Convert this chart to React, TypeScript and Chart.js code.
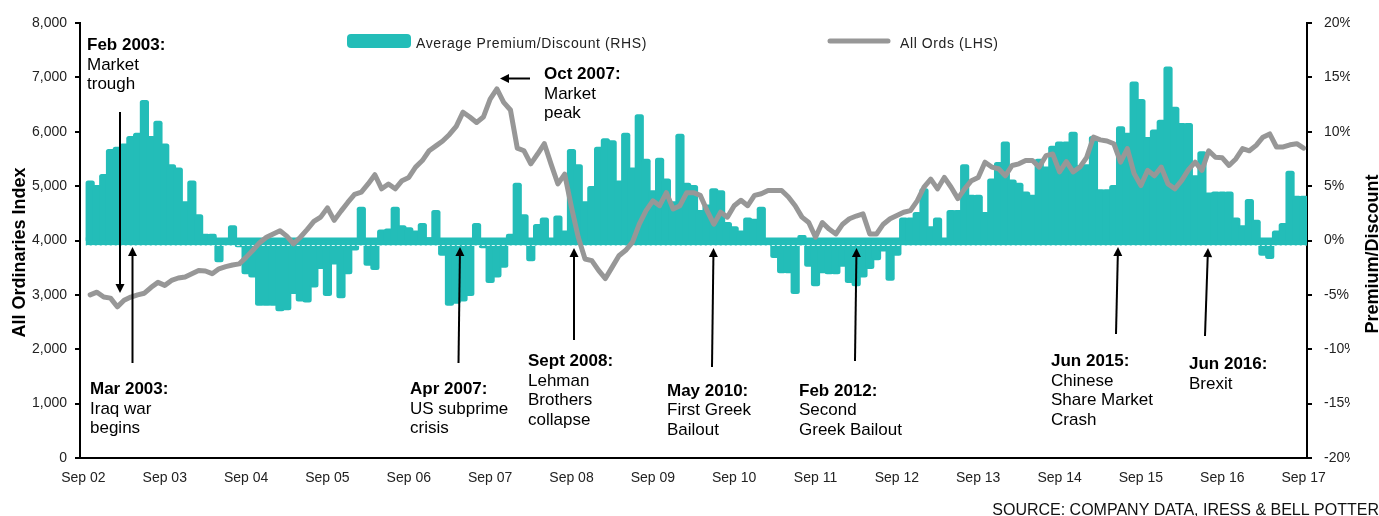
import React, { useEffect, useRef } from 'react';
import { Chart, registerables } from 'chart.js';

Chart.register(...registerables);

const FONT = '"Liberation Sans", Arial, Helvetica, sans-serif';
const TEAL = '#23BDB8';
const GREY = '#979797';

const MONTH_NAMES = ['Jan', 'Feb', 'Mar', 'Apr', 'May', 'Jun', 'Jul', 'Aug', 'Sep', 'Oct', 'Nov', 'Dec'];
const START_YEAR = 2002;
const START_MONTH = 8; // Sep
const MONTH_COUNT = 181; // Sep 02 .. Sep 17

const categories: string[] = Array.from({ length: MONTH_COUNT }, (_, k) => {
  const m = (START_MONTH + k) % 12;
  const y = START_YEAR + Math.floor((START_MONTH + k) / 12);
  return `${MONTH_NAMES[m]} ${String(y % 100).padStart(2, '0')}`;
});

// Average Premium/Discount (RHS), %
const premium: (number | null)[] = [null,
  5.4, 5.0, 6.0, 8.3, 8.5, 8.8, 9.5, 9.8, 12.8, 9.5,
  10.9, 8.8, 6.9, 6.6, 3.5, 5.4, 2.3, 0.5, 0.5, -1.9,
  0.1, 1.3, -0.5, -3.0, -3.3, -5.9, -5.9, -5.9, -6.4, -6.3,
  -4.8, -5.5, -5.6, -4.2, -2.5, -5.0, -2.1, -5.2, -3.0, -0.8,
  3.0, -2.2, -2.6, 0.9, 1.0, 3.0, 1.3, 1.1, 0.8, 1.5,
  0.2, 2.7, -1.3, -5.9, -5.7, -5.5, -5.0, 1.5, -0.6, -3.8,
  -3.3, -2.4, 0.5, 5.2, 2.3, -1.8, 1.4, 2.0, 0.1, 2.2,
  0.8, 8.3, 6.9, 3.5, 4.9, 8.5, 9.3, 9.1, 5.4, 9.8,
  6.6, 11.5, 7.4, 4.5, 7.5, 5.6, 3.5, 9.7, 5.2, 5.0,
  2.7, 3.2, 4.7, 4.5, 1.6, 1.2, 0.8, 2.0, 1.9, 3.0,
  0.1, -1.5, -2.9, -2.9, -4.8, 0.4, -2.3, -4.1, -2.9, -3.0,
  -3.0, -2.3, -3.8, -4.1, -3.3, -2.5, -1.7, -0.9, -3.6, -1.3,
  2.0, 2.0, 2.5, 4.7, 1.2, 2.0, 0.1, 2.7, 2.7, 6.9,
  4.1, 4.1, 2.5, 5.6, 7.1, 9.0, 5.5, 5.2, 4.4, 4.1,
  7.4, 6.7, 8.6, 9.0, 9.0, 9.9, 6.8, 6.9, 9.5, 4.6,
  4.6, 5.0, 10.4, 9.8, 14.5, 12.9, 9.4, 10.1, 11.0, 15.9,
  12.2, 10.7, 10.7, 5.9, 8.1, 4.3, 4.4, 4.4, 4.4, 2.0,
  1.3, 3.7, 1.8, -1.3, -1.6, 0.8, 1.5, 6.3, 4.0, 4.0,
];

// All Ords (LHS), index points
const allOrds: (number | null)[] = [null,
  3000, 3050, 2960, 2940, 2780, 2900, 2960, 3000, 3030, 3140,
  3230, 3175, 3265, 3310, 3330, 3390, 3450, 3440, 3390, 3480,
  3520, 3550, 3570, 3690, 3820, 3960, 4060, 4120, 4180, 4080,
  3940, 4060, 4200, 4350, 4430, 4600, 4370, 4540, 4700, 4850,
  4890, 5040, 5210, 4950, 5040, 4950, 5100, 5160, 5350, 5470,
  5650, 5740, 5830, 5950, 6100, 6360, 6270, 6170, 6270, 6600,
  6790, 6540, 6400, 5700, 5650, 5410, 5590, 5780, 5400, 5040,
  5220, 4610, 4060, 3660, 3630, 3450, 3300, 3510, 3720, 3820,
  3970, 4300, 4550, 4730, 4640, 4880, 4580, 4640, 4880, 4880,
  4830, 4550, 4300, 4520, 4430, 4640, 4740, 4640, 4830, 4860,
  4920, 4920, 4920, 4800, 4640, 4430, 4330, 4060, 4330, 4210,
  4120, 4300, 4400, 4450, 4490, 4120, 4120, 4300, 4400, 4460,
  4520, 4550, 4730, 4980, 5130, 4950, 5160, 4980, 4770, 4950,
  5100, 5160, 5440, 5350, 5320, 5190, 5380, 5410, 5470, 5470,
  5350, 5560, 5590, 5260, 5450, 5260, 5350, 5530, 5900, 5850,
  5830, 5780, 5440, 5690, 5230, 5010, 5290, 5190, 5350, 5040,
  4950, 5100, 5300, 5440, 5290, 5650, 5530, 5520, 5380, 5500,
  5690, 5650, 5750, 5900, 5960, 5720, 5720, 5760, 5780, 5700,
];

const leftTickValues = [0, 1000, 2000, 3000, 4000, 5000, 6000, 7000, 8000];
const rightTickValues = [20, 15, 10, 5, 0, -5, -10, -15, -20];
const rightTickLabels = ['20%', '15%', '10%', '5%', '0%', '-5%', '-10%', '-15%', '-20%'];

const leftTitle = 'All Ordinaries Index';
const rightTitle = 'Premium/Discount';
const sourceText = 'SOURCE: COMPANY DATA, IRESS & BELL POTTER';

const annotations = [
  { title: 'Feb 2003:', lines: ['Market', 'trough'], x: 87, y: 50, arrow: [120, 112, 120, 293] },
  { title: 'Mar 2003:', lines: ['Iraq war', 'begins'], x: 90, y: 394, arrow: [132.5, 363, 132.5, 247] },
  { title: 'Apr 2007:', lines: ['US subprime', 'crisis'], x: 410, y: 394, arrow: [458.5, 363, 460, 247] },
  { title: 'Oct 2007:', lines: ['Market', 'peak'], x: 544, y: 79, arrow: [530, 78.5, 500, 78.5] },
  { title: 'Sept 2008:', lines: ['Lehman', 'Brothers', 'collapse'], x: 528, y: 366, arrow: [574, 340, 574, 248] },
  { title: 'May 2010:', lines: ['First Greek', 'Bailout'], x: 667, y: 395.5, arrow: [712, 367, 713.5, 248] },
  { title: 'Feb 2012:', lines: ['Second', 'Greek Bailout'], x: 799, y: 395.5, arrow: [855, 361, 856.5, 248] },
  { title: 'Jun 2015:', lines: ['Chinese', 'Share Market', 'Crash'], x: 1051, y: 366, arrow: [1116, 334, 1118, 247] },
  { title: 'Jun 2016:', lines: ['Brexit'], x: 1189, y: 369, arrow: [1205, 336, 1208, 248] },
];

function drawArrow(ctx: CanvasRenderingContext2D, x1: number, y1: number, x2: number, y2: number) {
  const ang = Math.atan2(y2 - y1, x2 - x1);
  const hl = 9;
  const hw = 4.5;
  const bx = x2 - hl * Math.cos(ang);
  const by = y2 - hl * Math.sin(ang);
  ctx.beginPath();
  ctx.moveTo(x1, y1);
  ctx.lineTo(bx, by);
  ctx.lineWidth = 2;
  ctx.strokeStyle = '#000';
  ctx.stroke();
  ctx.beginPath();
  ctx.moveTo(x2, y2);
  ctx.lineTo(bx + hw * Math.sin(ang), by - hw * Math.cos(ang));
  ctx.lineTo(bx - hw * Math.sin(ang), by + hw * Math.cos(ang));
  ctx.closePath();
  ctx.fillStyle = '#000';
  ctx.fill();
}

const overlayPlugin = {
  id: 'overlay',
  beforeDatasetsDraw(chart: any) {
    const { ctx, scales } = chart;
    const x = scales.x;
    const y1 = scales.y1;
    const y0 = y1.getPixelForValue(0);
    const bw = (x.right - x.left) / MONTH_COUNT;
    const xs = x.getPixelForValue(1) - bw / 2 - 1;
    const xe = x.getPixelForValue(MONTH_COUNT - 1) + bw / 2;
    ctx.save();
    ctx.fillStyle = TEAL;
    ctx.fillRect(xs, y0 - 3, xe - xs, 8);
    ctx.restore();
  },
  afterDatasetDraw(chart: any, args: any) {
    if (args.index !== 0) return;
    const { ctx, scales } = chart;
    const x = scales.x;
    const y0 = scales.y1.getPixelForValue(0);
    const bw = (x.right - x.left) / MONTH_COUNT;
    const xs = x.getPixelForValue(1) - bw / 2;
    const xe = x.getPixelForValue(MONTH_COUNT - 1) + bw / 2;
    ctx.save();
    ctx.strokeStyle = 'rgba(255,255,255,0.85)';
    ctx.lineWidth = 1;
    ctx.setLineDash([3, 2]);
    ctx.beginPath();
    ctx.moveTo(xs, y0 + 5);
    ctx.lineTo(xe, y0 + 5);
    ctx.stroke();
    ctx.restore();
  },
  afterDraw(chart: any) {
    const { ctx, scales } = chart;
    const y1 = scales.y1;
    ctx.save();

    // right tick labels (clipped like the original)
    ctx.save();
    ctx.beginPath();
    ctx.rect(0, 0, 1350, 516);
    ctx.clip();
    ctx.font = `14px ${FONT}`;
    ctx.fillStyle = '#222';
    ctx.textAlign = 'left';
    ctx.textBaseline = 'middle';
    rightTickValues.forEach((v, i) => {
      ctx.fillText(rightTickLabels[i], 1324, y1.getPixelForValue(v));
    });
    ctx.restore();

    // axis titles
    ctx.font = `bold 18px ${FONT}`;
    ctx.fillStyle = '#000';
    ctx.textAlign = 'center';
    ctx.textBaseline = 'alphabetic';
    ctx.save();
    ctx.translate(25, 252.5);
    ctx.rotate(-Math.PI / 2);
    ctx.fillText(leftTitle, 0, 0);
    ctx.restore();
    ctx.save();
    ctx.translate(1378, 254);
    ctx.rotate(-Math.PI / 2);
    ctx.fillText(rightTitle, 0, 0);
    ctx.restore();

    // legend
    const ds = chart.data.datasets;
    ctx.fillStyle = TEAL;
    ctx.beginPath();
    if ((ctx as any).roundRect) (ctx as any).roundRect(347, 34, 64, 14, 4);
    else ctx.rect(347, 34, 64, 14);
    ctx.fill();
    ctx.font = `14px ${FONT}`;
    (ctx as any).letterSpacing = '0.6px';
    ctx.fillStyle = '#222';
    ctx.textAlign = 'left';
    ctx.fillText(ds[0].label, 416, 47.5);
    ctx.strokeStyle = GREY;
    ctx.lineWidth = 5;
    ctx.lineCap = 'round';
    ctx.beginPath();
    ctx.moveTo(830, 41);
    ctx.lineTo(888, 41);
    ctx.stroke();
    ctx.lineCap = 'butt';
    ctx.fillText(ds[1].label, 900, 47.5);
    (ctx as any).letterSpacing = '0px';

    // annotations
    annotations.forEach((a) => {
      ctx.fillStyle = '#000';
      ctx.textAlign = 'left';
      ctx.font = `bold 17px ${FONT}`;
      ctx.fillText(a.title, a.x, a.y);
      ctx.font = `17px ${FONT}`;
      a.lines.forEach((l, k) => ctx.fillText(l, a.x, a.y + 19.5 * (k + 1)));
      drawArrow(ctx, a.arrow[0], a.arrow[1], a.arrow[2], a.arrow[3]);
    });

    // source
    ctx.font = `16px ${FONT}`;
    ctx.fillStyle = '#111';
    ctx.textAlign = 'right';
    ctx.fillText(sourceText, 1379, 515);

    ctx.restore();
  },
};

export default function App() {
  const ref = useRef<HTMLCanvasElement>(null);

  useEffect(() => {
    const canvas = ref.current;
    if (!canvas) return;
    const chart = new Chart(canvas, {
      type: 'bar',
      data: {
        labels: categories,
        datasets: [
          {
            type: 'bar',
            label: 'Average Premium/Discount (RHS)',
            data: premium,
            yAxisID: 'y1',
            backgroundColor: TEAL,
            borderWidth: 0,
            borderRadius: 2.5,
            inflateAmount: 1.2,
            barPercentage: 1,
            categoryPercentage: 1,
            order: 2,
          } as any,
          {
            type: 'line',
            label: 'All Ords (LHS)',
            data: allOrds,
            yAxisID: 'y',
            borderColor: GREY,
            backgroundColor: GREY,
            borderWidth: 5,
            pointRadius: 0,
            tension: 0,
            borderJoinStyle: 'round',
            borderCapStyle: 'round',
            order: 1,
          } as any,
        ],
      },
      options: {
        responsive: false,
        animation: false,
        devicePixelRatio: 1,
        layout: { padding: { top: 23, left: 0, right: 0, bottom: 0 } },
        plugins: {
          legend: { display: false },
          tooltip: { enabled: false },
        },
        scales: {
          x: {
            type: 'category',
            offset: true,
            grid: { display: false, drawTicks: false },
            border: { display: true, color: '#000', width: 2 },
            ticks: {
              autoSkip: false,
              maxRotation: 0,
              minRotation: 0,
              padding: 12,
              color: '#222',
              font: { family: FONT, size: 14 },
              callback: (_v: any, i: number) => (categories[i].startsWith('Sep') ? categories[i] : ''),
            },
            afterFit: (s: any) => { s.height = 58; },
          },
          y: {
            position: 'left',
            min: leftTickValues[0],
            max: leftTickValues[leftTickValues.length - 1],
            ticks: {
              stepSize: 1000,
              padding: 8,
              color: '#222',
              font: { family: FONT, size: 14 },
              callback: (v: any) => Number(v).toLocaleString('en-US'),
            },
            grid: { display: true, drawOnChartArea: false, drawTicks: true, tickLength: 5, color: '#000', lineWidth: 2 },
            border: { display: true, color: '#000', width: 2 },
            afterFit: (s: any) => { s.width = 80; },
          },
          y1: {
            position: 'right',
            min: -20,
            max: 20,
            ticks: { stepSize: 5, display: false },
            grid: { display: true, drawOnChartArea: false, drawTicks: true, tickLength: 5, color: '#000', lineWidth: 2 },
            border: { display: true, color: '#000', width: 2 },
            afterFit: (s: any) => { s.width = 72; },
          },
        },
      } as any,
      plugins: [overlayPlugin as any],
    });
    return () => chart.destroy();
  }, []);

  return (
    <div style={{ position: 'absolute', left: 0, top: 0, width: 1379, height: 516, background: '#fff' }}>
      <canvas ref={ref} width={1379} height={516} style={{ display: 'block', width: 1379, height: 516 }} />
    </div>
  );
}
